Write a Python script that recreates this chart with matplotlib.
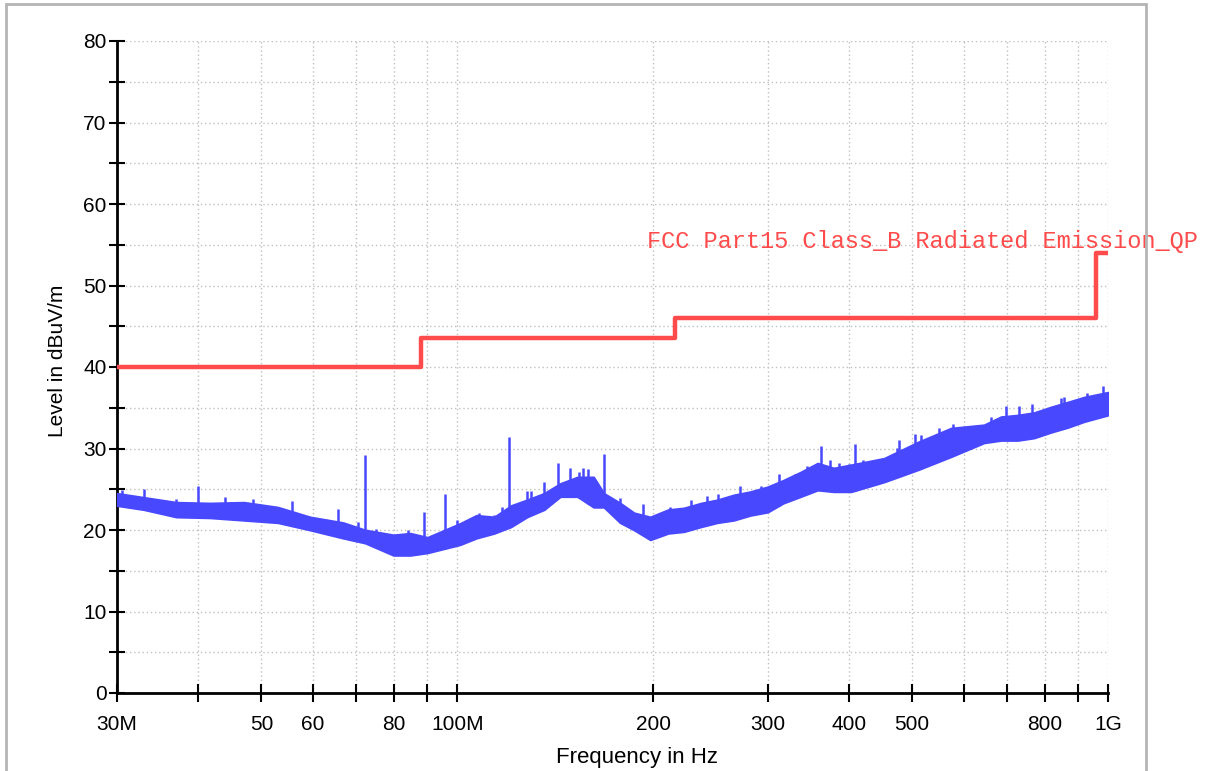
import numpy as np
import matplotlib
matplotlib.use("Agg")
import matplotlib.pyplot as plt
from matplotlib.patches import Rectangle

band_freq_mhz = [30, 33, 37, 41.7, 47, 53, 59.4, 66.8, 72.2, 79.8, 84.7, 90, 101, 107,
                 114, 121, 128, 136, 144, 153, 162, 168, 178, 187, 198, 211, 223, 237,
                 251, 266, 282, 300, 317, 337, 358, 379, 403, 453, 511, 574, 645, 685,
                 727, 770, 818, 868, 919, 1000]
band_low = [23.0, 22.5, 21.6, 21.5, 21.2, 20.9, 20.0, 19.0, 18.4, 16.9, 16.9, 17.2, 18.2,
            19.0, 19.6, 20.4, 21.6, 22.5, 24.1, 24.1, 22.8, 22.8, 20.9, 20.0, 18.8, 19.6,
            19.8, 20.4, 20.9, 21.2, 21.8, 22.2, 23.3, 24.1, 24.9, 24.7, 24.7, 25.9, 27.4,
            29.0, 30.7, 31.0, 31.0, 31.3, 32.0, 32.6, 33.3, 34.1]
band_high = [24.5, 24.0, 23.4, 23.3, 23.4, 22.8, 21.6, 20.9, 20.0, 19.4, 19.6, 19.1, 20.8,
             21.8, 21.6, 23.0, 23.7, 24.5, 25.7, 26.5, 26.5, 24.5, 23.3, 22.1, 21.6, 22.5,
             22.7, 23.3, 23.7, 24.3, 24.7, 25.3, 26.1, 27.1, 28.2, 27.6, 28.0, 28.8, 30.8,
             32.5, 32.9, 33.9, 34.1, 34.4, 35.1, 35.7, 36.3, 36.9]

# narrow peaks sticking out of the band
spike_freq_mhz = [30.5, 33, 36.9, 40, 44, 48.5, 55.7, 65.6, 70.4, 72.2, 75.1, 83.9, 89,
                  95.6, 100, 108, 114, 117, 120, 128, 130, 136, 143, 149, 154, 156, 159,
                  168, 178, 193, 212, 229, 242, 252, 272, 293, 305, 312, 330, 345, 362,
                  374, 386, 400, 408, 420, 453, 474, 478, 505, 516, 550, 578, 660, 697,
                  730, 763, 846, 855, 929, 983]
spike_peak = [24.9, 25.0, 23.8, 25.4, 24.0, 23.8, 23.5, 22.6, 21.0, 29.2, 20.1, 20.0, 22.2,
              24.4, 21.2, 22.1, 21.8, 22.8, 31.4, 24.8, 24.8, 25.9, 28.2, 27.6, 27.1, 27.6,
              27.5, 29.3, 23.9, 23.2, 22.8, 23.7, 24.2, 24.4, 25.4, 25.4, 25.4, 26.9, 26.9,
              27.9, 30.3, 28.6, 28.2, 28.1, 30.5, 28.6, 28.8, 30.1, 31.0, 31.8, 31.7, 32.5,
              33.0, 33.9, 35.2, 35.2, 35.5, 36.2, 36.3, 36.8, 37.7]

# FCC Part 15 class B limit
limit_freq_mhz = [30, 88, 216, 960, 1000]
limit_level = [40, 43.5, 46, 54, 54]

x_ticks_mhz = [30, 40, 50, 60, 70, 80, 90, 100, 200, 300, 400, 500, 600, 700, 800, 900, 1000]
x_tick_labels = ["30M", "", "50", "60", "", "80", "", "100M", "200", "300", "400", "500",
                 "", "", "800", "", "1G"]

blue = "#4848ff"
red = "#ff4b4b"

plt.rcParams["font.family"] = ["Liberation Sans", "DejaVu Sans"]

fig = plt.figure(figsize=(12.08, 7.71), dpi=100)
fig.patches.append(Rectangle((6 / 1208, -0.05), 1140 / 1208, 1 - 4 / 771 + 0.05,
                             transform=fig.transFigure, fill=False,
                             edgecolor="#b4b4b4", lw=2))
ax = fig.add_axes([117 / 1208, 1 - 693 / 771, 991 / 1208, 652 / 771])

f_band = np.array(band_freq_mhz) * 1e6
ax.fill_between(f_band, band_low, band_high, color=blue, lw=1.5, zorder=3)

f_sp = np.array(spike_freq_mhz) * 1e6
base = np.interp(np.log10(f_sp), np.log10(f_band), band_low)
ax.vlines(f_sp, base, spike_peak, color=blue, lw=1.8, zorder=3)

ax.step(np.array(limit_freq_mhz) * 1e6, limit_level, where="post", color=red, lw=3.2, zorder=4)
ax.text(196e6, 54.6, "FCC Part15 Class_B Radiated Emission_QP", color=red,
        family="Liberation Mono", fontsize=17, ha="left", va="baseline", clip_on=False)

ax.set_xscale("log")
ax.set_xlim(30e6, 1e9)
ax.set_ylim(0, 80)
ax.set_xticks(np.array(x_ticks_mhz) * 1e6)
ax.set_xticklabels(x_tick_labels)
ax.xaxis.set_minor_locator(matplotlib.ticker.NullLocator())
ax.set_yticks(np.arange(0, 81, 10))
ax.set_yticks(np.arange(5, 80, 10), minor=True)

ax.tick_params(axis="both", which="both", direction="inout", width=1.5, color="black",
               labelsize=15)
ax.tick_params(axis="x", which="major", length=13, pad=9)
ax.tick_params(axis="y", which="both", length=11, pad=2)

for s in ["top", "right"]:
    ax.spines[s].set_visible(False)
for s in ["left", "bottom"]:
    ax.spines[s].set_linewidth(2)

ax.grid(True, which="both", color="#c0c0c0", linestyle=(0, (1, 2)), lw=1)
ax.set_axisbelow(True)

ax.set_ylabel("Level in dBuV/m", fontsize=15)
ax.yaxis.set_label_coords(-0.05, 0.51)
ax.set_xlabel("Frequency in Hz", fontsize=16)
ax.xaxis.set_label_coords(0.525, -0.083)

fig.savefig("out.png", dpi=100)
